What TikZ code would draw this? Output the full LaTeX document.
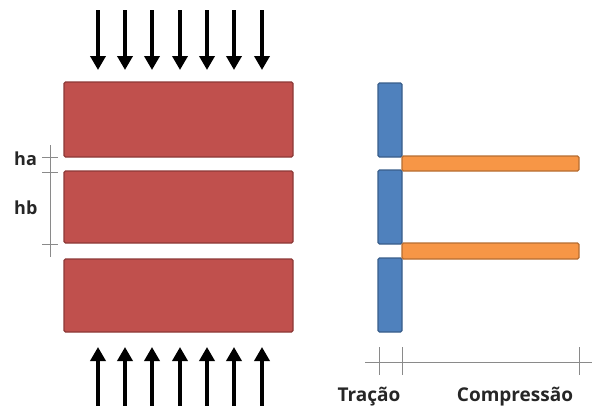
\documentclass[tikz,border=0pt]{standalone}
\usepackage{fontspec}
\setmainfont{Open Sans}
\usetikzlibrary{arrows.meta}
\definecolor{brick}{HTML}{C0504D}
\definecolor{brickedge}{HTML}{8C3836}
\definecolor{steel}{HTML}{4F81BD}
\definecolor{steeledge}{HTML}{385D8A}
\definecolor{amber}{HTML}{F79646}
\definecolor{amberedge}{HTML}{B66D31}
\definecolor{dimgray}{HTML}{8A8A8A}
\tikzset{
  brickbox/.style={fill=brick, draw=brickedge, line width=1.2pt, rounded corners=1.5pt},
  tensionbar/.style={fill=steel, draw=steeledge, line width=1.2pt, rounded corners=1.5pt},
  compbar/.style={fill=amber, draw=amberedge, line width=1.2pt, rounded corners=1.5pt},
  load/.style={line width=3.6pt, -{Triangle[width=15pt,length=14pt]}},
  dimline/.style={draw=dimgray, line width=0.9pt},
  lbl/.style={font=\fontsize{19}{23}\selectfont\bfseries, text=black!85, inner sep=0pt}
}
\begin{document}
\begin{tikzpicture}[x=1pt,y=-1pt]
\useasboundingbox (0,0) rectangle (592,405);
% masonry units and joints
\draw[brickbox] (64,82) rectangle (293,157);
\draw[brickbox] (64,171) rectangle (293,243);
\draw[brickbox] (64,259) rectangle (293,332);
% applied loads, top and bottom
\foreach \x in {98,125,152,180,207,234,262} {
  \draw[load] (\x,10) -- (\x,70);
  \draw[load] (\x,410) -- (\x,347);
}
% joint and unit heights
\draw[dimline] (50,145) -- (50,257);
\foreach \y in {157,172,244} \draw[dimline] (42,\y) -- (58,\y);
\node[lbl, anchor=base west, font=\fontsize{18}{22}\selectfont\bfseries] (ha) at (14,165) {ha};
\node[lbl, anchor=base west, font=\fontsize{18}{22}\selectfont\bfseries] (hb) at (14,214) {hb};
% stress diagram: tension in units, compression in joints
\draw[tensionbar] (378,83) rectangle (402,157);
\draw[tensionbar] (378,170) rectangle (402,244);
\draw[tensionbar] (378,258) rectangle (402,332);
\draw[compbar] (402,156) rectangle (579,171);
\draw[compbar] (402,243) rectangle (579,259);
% stress axis
\draw[dimline] (365,362) -- (592,362);
\foreach \x in {379,402,579} \draw[dimline] (\x,347) -- (\x,375);
\node[lbl, anchor=base] (tracao) at (369,401) {Tração};
\node[lbl, anchor=base] (compressao) at (515,401) {Compressão};
\end{tikzpicture}
\end{document}
